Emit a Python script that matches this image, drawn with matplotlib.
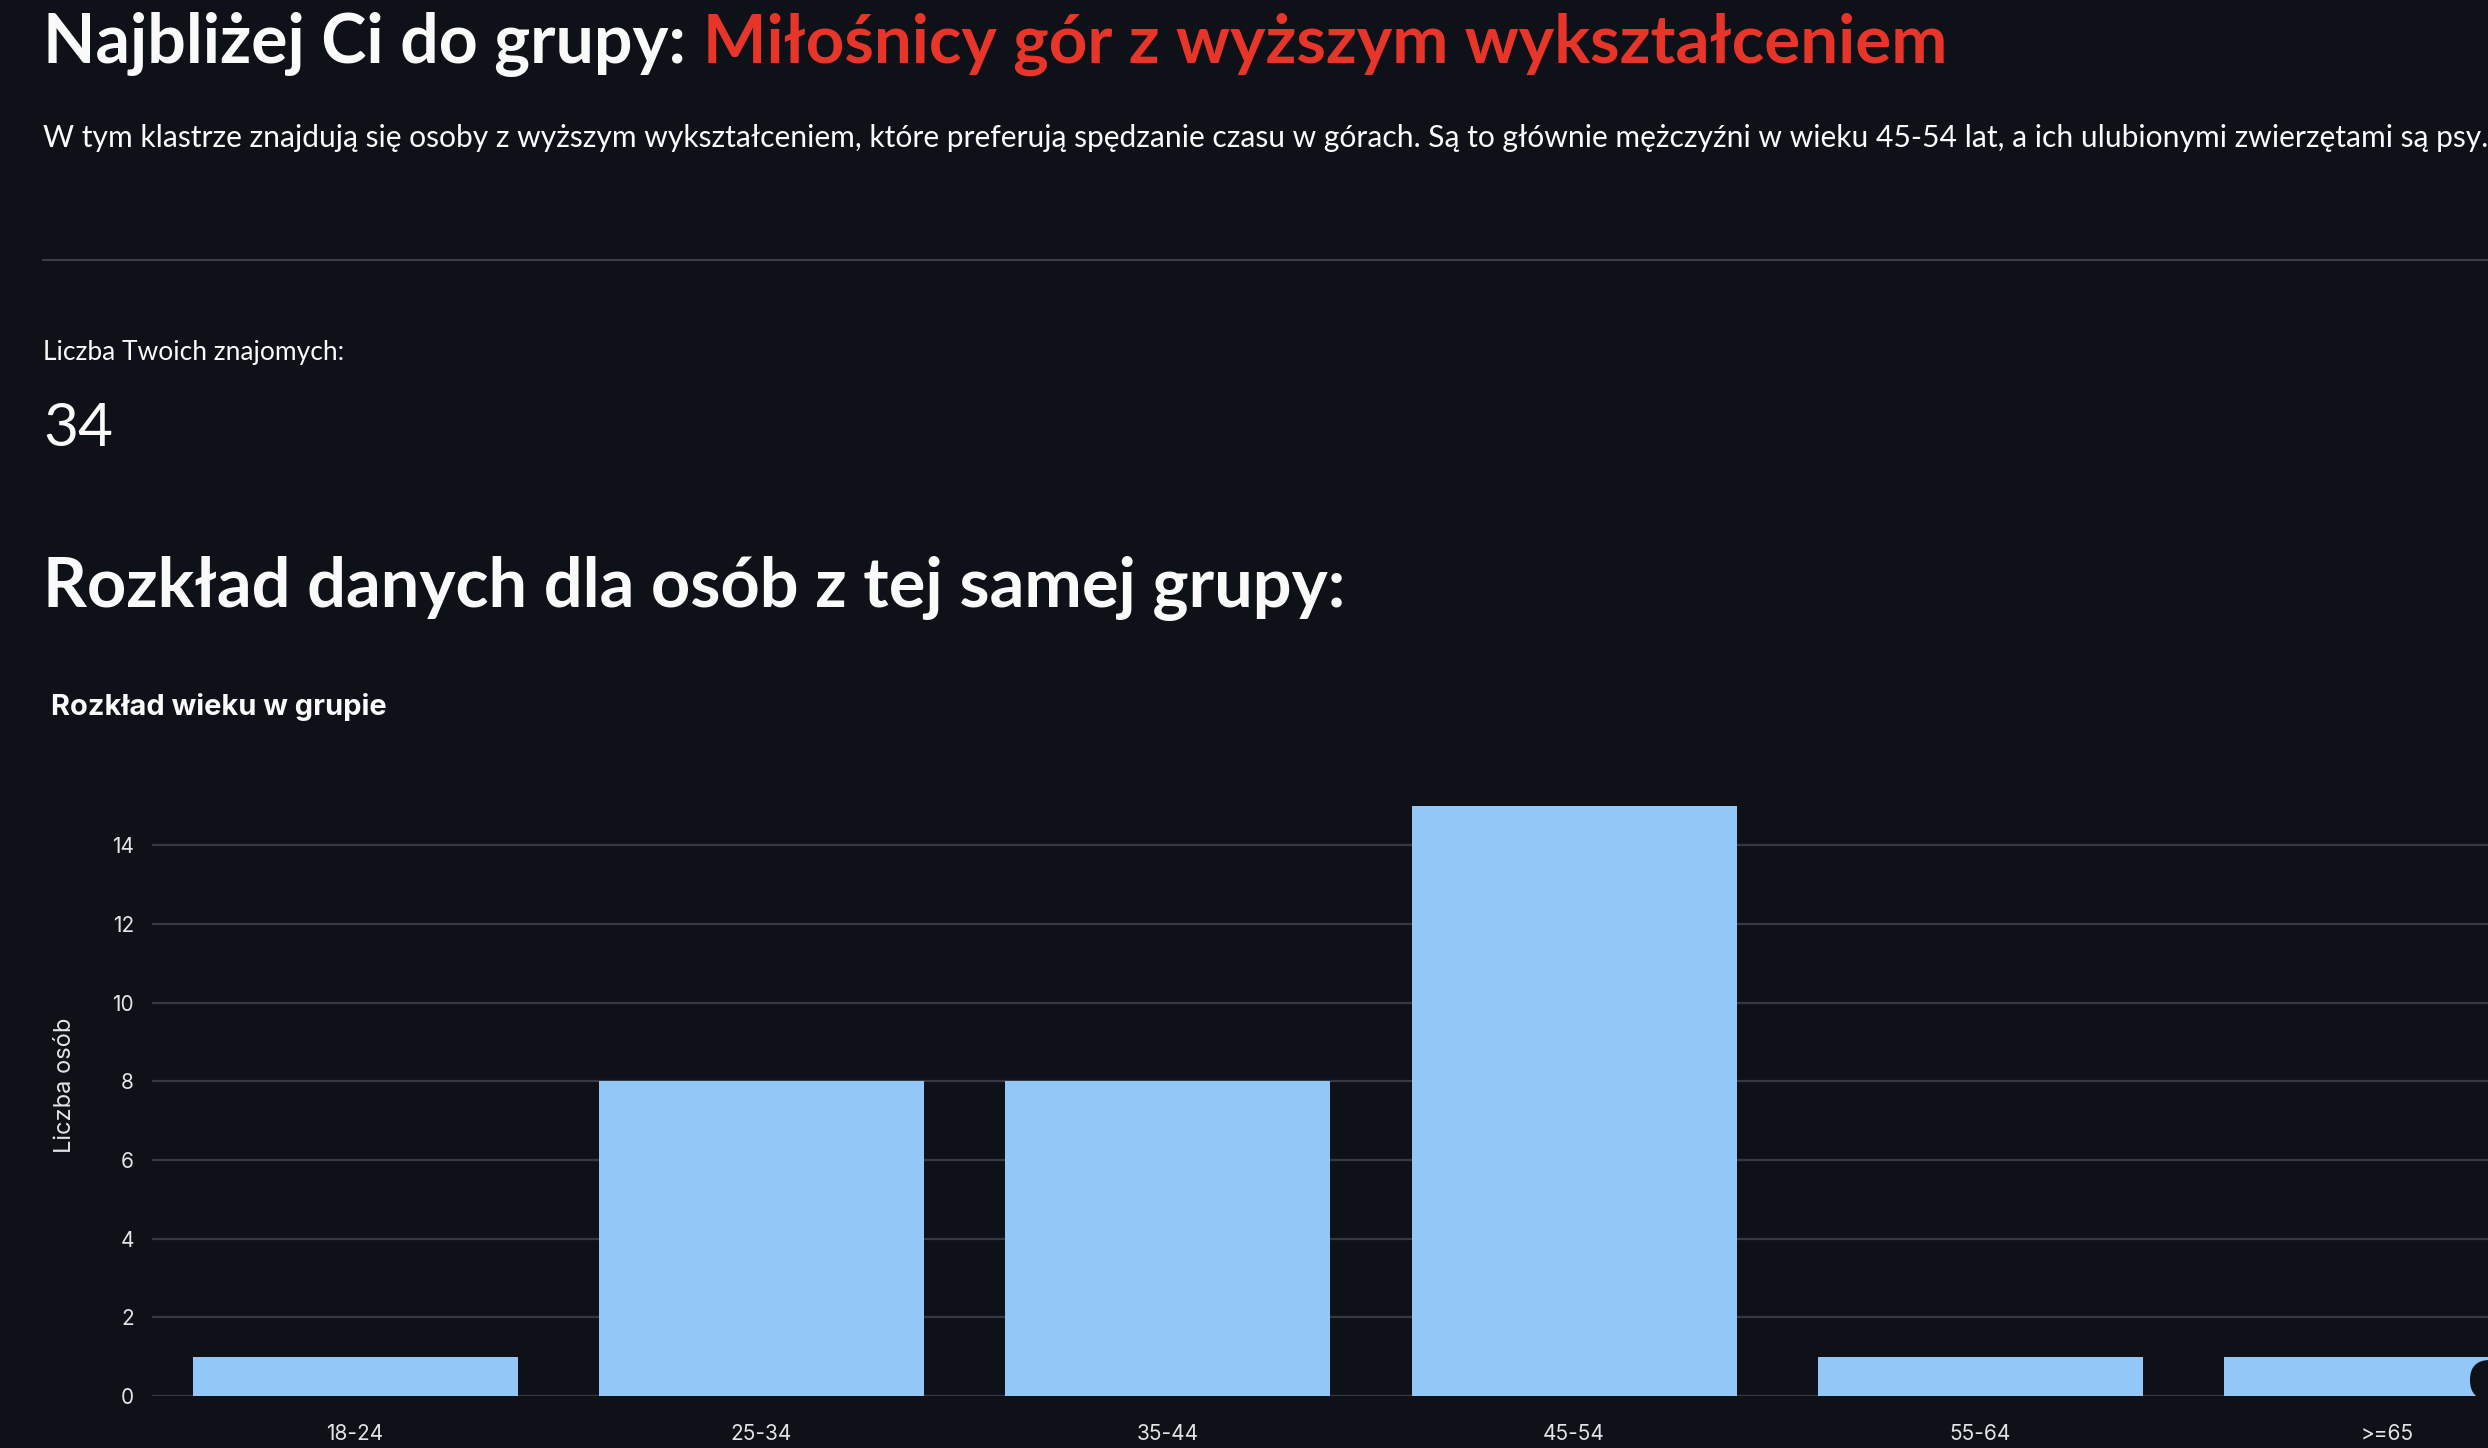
"""Streamlit-style cluster card: headline texts + age distribution bar chart (dark theme)."""
import matplotlib
matplotlib.use("Agg")
import matplotlib.pyplot as plt
from matplotlib.patches import FancyBboxPatch

# ---- data ----
age_groups = ["18-24", "25-34", "35-44", "45-54", "55-64", ">=65"]
counts = [1, 8, 8, 15, 1, 1]
y_ticks = [0, 2, 4, 6, 8, 10, 12, 14]
friends_count = 34

title_white = "Najbliżej Ci do grupy: "
title_red = "Miłośnicy gór z wyższym wykształceniem"
description = ("W tym klastrze znajdują się osoby z wyższym wykształceniem, które preferują spędzanie "
               "czasu w górach. Są to głównie mężczyźni w wieku 45-54 lat, a ich ulubionymi zwierzętami są psy.")
metric_label = "Liczba Twoich znajomych:"
section_title = "Rozkład danych dla osób z tej samej grupy:"
chart_title = "Rozkład wieku w grupie"
y_label = "Liczba osób"

# ---- palette ----
BG = "#0e1117"
INK = "#fafafa"
RED = "#e8352a"
BAR = "#92c7f8"
GRID = "#363944"
RULE = "#3b3d45"

W, H, DPI = 2488, 1448, 100
fig = plt.figure(figsize=(W / DPI, H / DPI), dpi=DPI)
fig.patch.set_facecolor(BG)
r = fig.canvas.get_renderer()


def fx(px):
    return px / W


def fy(px):
    return 1 - px / H


def fit(t, width_px):
    # scale font so the text spans the given pixel width
    bb = t.get_window_extent(r)
    t.set_fontsize(t.get_fontsize() * width_px / bb.width)
    return t


UI = ["Lato", "DejaVu Sans"]
VEGA = ["Inter", "DejaVu Sans"]

# headline: white + red parts
t1 = fig.text(fx(43), fy(63), title_white, color=INK, fontsize=44, fontweight="bold",
              family=UI, va="baseline")
fit(t1, 703 - 43)
t2 = fig.text(fx(703), fy(63), title_red, color=RED, fontsize=t1.get_fontsize(),
              fontweight="bold", family=UI, va="baseline")
fit(t2, 1947 - 703)

t = fig.text(fx(43), fy(147), description, color=INK, fontsize=18, family=UI, va="baseline")
fit(t, 2483 - 43)

# divider
fig.add_artist(plt.Line2D([fx(43), 1], [fy(260), fy(260)], color=RULE, linewidth=1.5))

t = fig.text(fx(43), fy(360), metric_label, color=INK, fontsize=14, family=UI, va="baseline")
fit(t, 346 - 43)
t = fig.text(fx(43), fy(446), str(friends_count), color=INK, fontsize=40, family=UI, va="baseline")
fit(t, 113 - 43)

t = fig.text(fx(43), fy(607), section_title, color=INK, fontsize=44, fontweight="bold",
             family=UI, va="baseline")
fit(t, 1347 - 43)

t = fig.text(fx(51), fy(715), chart_title, color=INK, fontsize=15, fontweight="bold",
             family=VEGA, va="baseline")
fit(t, 386 - 51)

# ---- bar chart (axes runs past the right edge, as in the screenshot) ----
left, right, bottom, top = 152, 2590, 1396, 806
ax = fig.add_axes([fx(left), fy(bottom), (right - left) / W, (bottom - top) / H])
ax.set_facecolor(BG)
ax.bar(range(len(age_groups)), counts, width=0.8, color=BAR, zorder=3)
ax.set_xlim(-0.5, len(age_groups) - 0.5)
ax.set_ylim(0, 15)
ax.set_yticks(y_ticks)
ax.set_xticks(range(len(age_groups)))
ax.set_xticklabels(age_groups)
ax.grid(axis="y", color=GRID, linewidth=1.6, zorder=0)
ax.tick_params(length=0, colors="#e4e4e6", labelsize=15)
ax.tick_params(axis="y", pad=13)
ax.tick_params(axis="x", pad=20)
for lab in ax.get_xticklabels() + ax.get_yticklabels():
    lab.set_family(VEGA)
for s in ax.spines.values():
    s.set_visible(False)
ax.set_ylabel(y_label, color="#e4e4e6", fontsize=17, family=VEGA)
ax.yaxis.set_label_coords((76 - left) / (right - left), (bottom - 1085) / (bottom - top))

# streamlit corner badge overlapping the last bar
fig.add_artist(FancyBboxPatch((fx(2470), fy(1400)), fx(40), 40 / H,
                              boxstyle="round,pad=0,rounding_size=0.008",
                              transform=fig.transFigure, facecolor=BG, edgecolor="none",
                              mutation_aspect=W / H, zorder=10))

fig.savefig("out.png", dpi=DPI, facecolor=BG)
